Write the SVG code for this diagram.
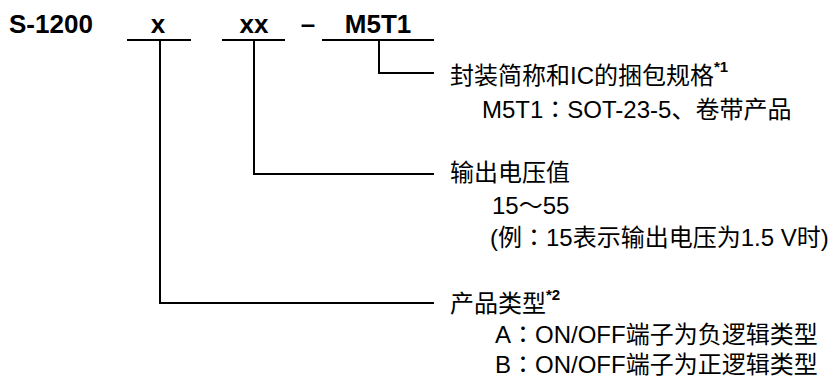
<svg xmlns="http://www.w3.org/2000/svg" width="836" height="380" viewBox="0 0 836 380">
<style>
text{font-family:"Liberation Sans","Noto Sans CJK SC",sans-serif;fill:#000}
.h{font-size:26px;font-weight:bold}
.t{font-size:24px}
.jp{font-family:"Noto Sans CJK JP",sans-serif}
.sup{font-size:15px;font-weight:bold}
line,polyline{stroke:#000;stroke-width:2;fill:none}
</style>
<rect width="836" height="380" fill="#fff"/>
<g id="model">
<text class="h" x="9" y="33">S-1200</text>
</g>
<g id="part-x">
<text class="h" x="158" y="33" text-anchor="middle">x</text>
<line x1="127" y1="40" x2="191" y2="40"/>
</g>
<g id="part-xx">
<text class="h" x="254" y="33" text-anchor="middle">xx</text>
<line x1="222" y1="40" x2="285" y2="40"/>
</g>
<g id="dash">
<text class="h" x="308" y="33" text-anchor="middle">–</text>
</g>
<g id="part-m5t1">
<text class="h" x="378" y="33" text-anchor="middle">M5T1</text>
<line x1="322" y1="40" x2="434" y2="40"/>
</g>
<g id="connectors">
<polyline points="379,40 379,73 434,73"/>
<polyline points="254,40 254,174 434,174"/>
<polyline points="160,40 160,303 434,303"/>
</g>
<g id="label-package">
<text class="t" x="450" y="84">封装简称和IC的捆包规格<tspan class="sup" dy="-12">*1</tspan></text>
<text class="t" x="482" y="118">M5T1<tspan class="jp">：</tspan>SOT-23-5、卷带产品</text>
</g>
<g id="label-voltage">
<text class="t" x="450" y="181">输出电压值</text>
<text class="t" x="492" y="214">15～55</text>
<text class="t" x="490" y="246">(例<tspan class="jp">：</tspan>15表示输出电压为1.5 V时)</text>
</g>
<g id="label-type">
<text class="t" x="450" y="312">产品类型<tspan class="sup" dy="-12">*2</tspan></text>
<text class="t" x="495" y="343">A<tspan class="jp">：</tspan>ON/OFF端子为负逻辑类型</text>
<text class="t" x="495" y="373">B<tspan class="jp">：</tspan>ON/OFF端子为正逻辑类型</text>
</g>
</svg>
